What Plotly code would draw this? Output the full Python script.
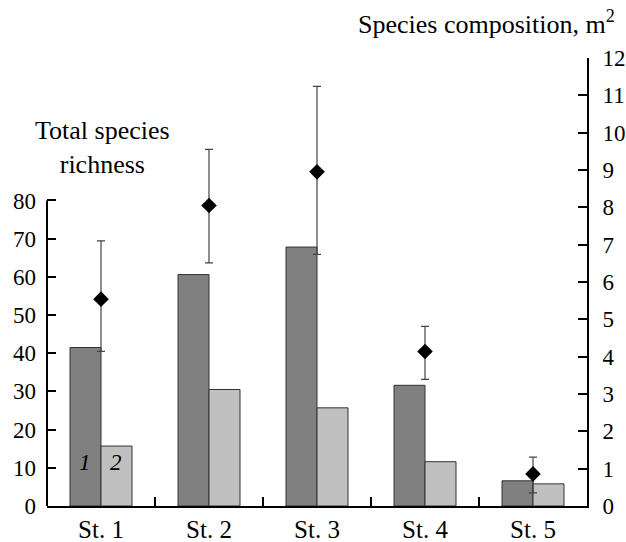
import plotly.graph_objects as go

stations = ["St. 1", "St. 2", "St. 3", "St. 4", "St. 5"]
total_richness = [41.5, 60.6, 67.8, 31.6, 6.6]
series2 = [15.7, 30.5, 25.7, 11.6, 5.8]
composition = [5.54, 8.05, 8.95, 4.14, 0.86]
comp_err_plus = [1.56, 1.50, 2.29, 0.67, 0.45]
comp_err_minus = [1.40, 1.54, 2.21, 0.75, 0.51]
left_ticks = [0, 10, 20, 30, 40, 50, 60, 70, 80]
right_ticks = list(range(0, 13))

FONT = "Liberation Serif, Times New Roman, serif"

fig = go.Figure()
fig.add_trace(go.Bar(
    x=stations, y=total_richness, name="1",
    marker=dict(color="#808080", line=dict(color="#333333", width=1)),
    yaxis="y",
))
fig.add_trace(go.Bar(
    x=stations, y=series2, name="2",
    marker=dict(color="#c0c0c0", line=dict(color="#333333", width=1)),
    yaxis="y",
))
fig.add_trace(go.Scatter(
    x=stations, y=composition, mode="markers",
    marker=dict(symbol="diamond", size=12, color="black"),
    error_y=dict(type="data", symmetric=False, array=comp_err_plus,
                 arrayminus=comp_err_minus, color="#444444", thickness=1.2, width=4),
    yaxis="y2",
))

fig.update_layout(
    width=626, height=542,
    margin=dict(l=47, r=39, t=58, b=36, autoexpand=False),
    paper_bgcolor="white", plot_bgcolor="white",
    showlegend=False,
    barmode="group", bargap=0.426, bargroupgap=0,
    font=dict(family=FONT, color="black", size=23),
    xaxis=dict(
        type="category", range=[-0.5, 4.5], automargin=False,
        showline=True, linecolor="black", linewidth=2,
        ticks="inside", tickson="boundaries", ticklen=9, tickwidth=2, tickcolor="black",
        tickfont=dict(size=25), ticklabelstandoff=0,
        showgrid=False, zeroline=False,
    ),
    yaxis=dict(
        range=[0, 117.3], tickvals=left_ticks, automargin=False,
        showline=False, ticks="inside", ticklen=9, tickwidth=2, tickcolor="black",
        tickfont=dict(size=23), ticklabelstandoff=10,
        showgrid=False, zeroline=False,
    ),
    yaxis2=dict(
        range=[0, 12], tickvals=right_ticks, overlaying="y", side="right", automargin=False,
        showline=True, linecolor="black", linewidth=2,
        ticks="inside", ticklen=9, tickwidth=2, tickcolor="black",
        tickfont=dict(size=23), ticklabelstandoff=9,
        showgrid=False, zeroline=False,
    ),
)

# left axis line only up to 80
fig.add_shape(type="line", xref="paper", yref="y", x0=0, x1=0, y0=0, y1=max(left_ticks),
              line=dict(color="black", width=2))

fig.add_annotation(text="Total species<br>richness", xref="paper", yref="paper",
                   x=0.102, y=0.80, xanchor="center", yanchor="middle", showarrow=False,
                   font=dict(size=26))
fig.add_annotation(text="Species composition, m<sup>2</sup>", xref="paper", yref="paper",
                   x=1.0556, y=1.08, xanchor="right", yanchor="middle", showarrow=False,
                   font=dict(size=26))
# series labels inside first bars
fig.add_annotation(text="<i>1</i>", x=stations[0], y=11.5, xshift=-16, yref="y",
                   showarrow=False, font=dict(size=23))
fig.add_annotation(text="<i>2</i>", x=stations[0], y=11.5, xshift=15, yref="y",
                   showarrow=False, font=dict(size=23))

fig.write_html(
    "out.html",
    config={"displayModeBar": False},
    post_script="document.body.style.margin='0';document.body.style.overflow='hidden';",
)
